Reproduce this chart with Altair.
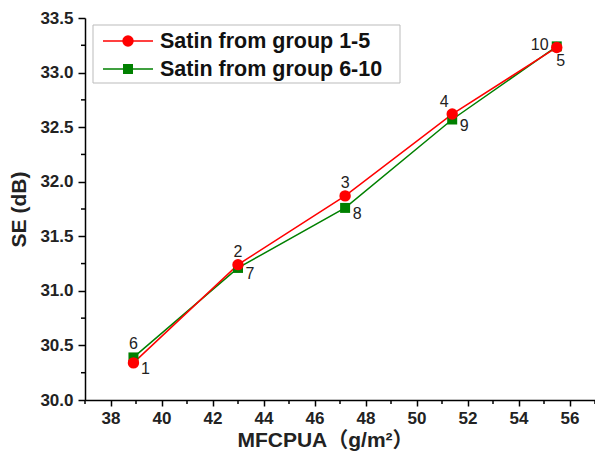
import altair as alt
import pandas as pd

# ---- data ----
mfcpua = [38.9, 43.0, 47.2, 51.4, 55.5]
se_group_1_5 = [30.34, 31.24, 31.87, 32.62, 33.23]
se_group_6_10 = [30.39, 31.21, 31.76, 32.57, 33.24]
labels_1_5 = ["1", "2", "3", "4", "5"]
labels_6_10 = ["6", "7", "8", "9", "10"]
place_1_5 = ["right-below", "above", "above", "above-left", "below"]
place_6_10 = ["above", "right-below", "right-below", "right-below", "left"]
series_names = ["Satin from group 1-5", "Satin from group 6-10"]

x_major = [38, 40, 42, 44, 46, 48, 50, 52, 54, 56]
x_minor = [37, 39, 41, 43, 45, 47, 49, 51, 53, 55, 57]
y_major = [30.0, 30.5, 31.0, 31.5, 32.0, 32.5, 33.0, 33.5]
y_minor = [30.25, 30.75, 31.25, 31.75, 32.25, 32.75, 33.25]

RED = "#ff0000"
GREEN = "#008000"
FONT = "Liberation Sans"

df = pd.DataFrame({
    "x": mfcpua * 2,
    "se": se_group_1_5 + se_group_6_10,
    "series": [series_names[0]] * 5 + [series_names[1]] * 5,
    "label": labels_1_5 + labels_6_10,
    "place": place_1_5 + place_6_10,
})

xscale = alt.Scale(domain=[37, 57], nice=False, zero=False)
yscale = alt.Scale(domain=[30, 33.5], nice=False, zero=False)

xaxis = alt.Axis(values=x_major, title="MFCPUA（g/m²）", labelFont=FONT, labelFontSize=17,
                 labelFontWeight="bold", labelColor="#222222", labelPadding=4,
                 tickSize=6, tickWidth=1.5, tickColor="black", domainColor="black",
                 domainWidth=1.5, grid=False, labelOverlap=False, labelFlush=False,
                 titleFont=f"{FONT}, Noto Sans CJK SC", titleFontSize=21, titleFontWeight="bold",
                 titleColor="#222222", titleX=240, titlePadding=3)
yaxis = alt.Axis(values=y_major, format=".1f", title="SE (dB)", labelFont=FONT, labelFontSize=17,
                 labelFontWeight="bold", labelColor="#222222", labelPadding=5,
                 tickSize=7, tickWidth=1.5, tickColor="black", domainColor="black",
                 domainWidth=1.5, grid=False, labelOverlap=False, labelFlush=False,
                 titleFont=FONT, titleFontSize=21, titleFontWeight="bold",
                 titleColor="#222222", titlePadding=10)

X = alt.X("x:Q", scale=xscale, axis=xaxis)
Y = alt.Y("se:Q", scale=yscale, axis=yaxis)

green_df = df[df.series == series_names[1]]
red_df = df[df.series == series_names[0]]

green_line = alt.Chart(green_df).mark_line(color=GREEN, strokeWidth=1.5).encode(x=X, y=Y)
red_line = alt.Chart(red_df).mark_line(color=RED, strokeWidth=1.5).encode(x=X, y=Y)
green_pts = alt.Chart(green_df).mark_point(shape="square", filled=True, opacity=1, size=100,
                                           color=GREEN).encode(x=X, y=Y)
red_pts = alt.Chart(red_df).mark_point(shape="circle", filled=True, opacity=1, size=130,
                                       color=RED).encode(x=X, y=Y)

# minor ticks
xminor_df = pd.DataFrame({"v": x_minor})
yminor_df = pd.DataFrame({"v": y_minor})
x_minor_ticks = alt.Chart(xminor_df).mark_rule(color="black", strokeWidth=1.5).encode(
    x=alt.X("v:Q", scale=xscale), y=alt.value(382), y2=alt.value(386))
y_minor_ticks = alt.Chart(yminor_df).mark_rule(color="black", strokeWidth=1.5).encode(
    y=alt.Y("v:Q", scale=yscale), x=alt.value(0), x2=alt.value(-4))

# point number labels
offsets = {
    "right-below": (12, 6),
    "above": (0, -13),
    "above-left": (-8, -12),
    "below": (4, 14),
    "left": (-17, -1),
}
label_layers = []
for place, (dx, dy) in offsets.items():
    sub = df[df.place == place]
    label_layers.append(
        alt.Chart(sub).mark_text(font=FONT, fontSize=16, color="#222222", dx=dx, dy=dy,
                                 align="center", baseline="middle").encode(
            x=alt.X("x:Q", scale=xscale), y=alt.Y("se:Q", scale=yscale), text="label:N")
    )

# legend box
legend_layers = [
    alt.Chart(pd.DataFrame({"name": [series_names[0]]})).mark_rect(
        fill="white", stroke="#bbbbbb", strokeWidth=1).encode(
        x=alt.value(8), x2=alt.value(315), y=alt.value(7), y2=alt.value(65))
]
for i, (name, col, shp, sz) in enumerate(zip(series_names, [RED, GREEN],
                                            ["circle", "square"], [130, 100])):
    ld = pd.DataFrame({"name": [name]})
    yy = 23 + 28 * i
    legend_layers.append(alt.Chart(ld).mark_rule(color=col, strokeWidth=1.5).encode(
        x=alt.value(18), x2=alt.value(68), y=alt.value(yy)))
    legend_layers.append(alt.Chart(ld).mark_point(shape=shp, filled=True, opacity=1, size=sz,
                                                  color=col).encode(
        x=alt.value(43), y=alt.value(yy)))
    legend_layers.append(alt.Chart(ld).mark_text(font=FONT, fontSize=21.5, fontWeight="bold",
                                                 color="#111111", align="left",
                                                 baseline="middle").encode(
        x=alt.value(75), y=alt.value(yy + 1), text="name:N"))

chart = alt.layer(
    green_line, red_line, green_pts, red_pts, x_minor_ticks, y_minor_ticks,
    *label_layers, *legend_layers
).properties(
    width=510, height=382,
    autosize=alt.AutoSizeParams(type="none"),
    padding={"left": 85, "top": 18, "right": 0, "bottom": 59},
    background="white",
).configure_view(stroke=None)

chart.save("out.html", embed_options={"renderer": "svg", "actions": False})
